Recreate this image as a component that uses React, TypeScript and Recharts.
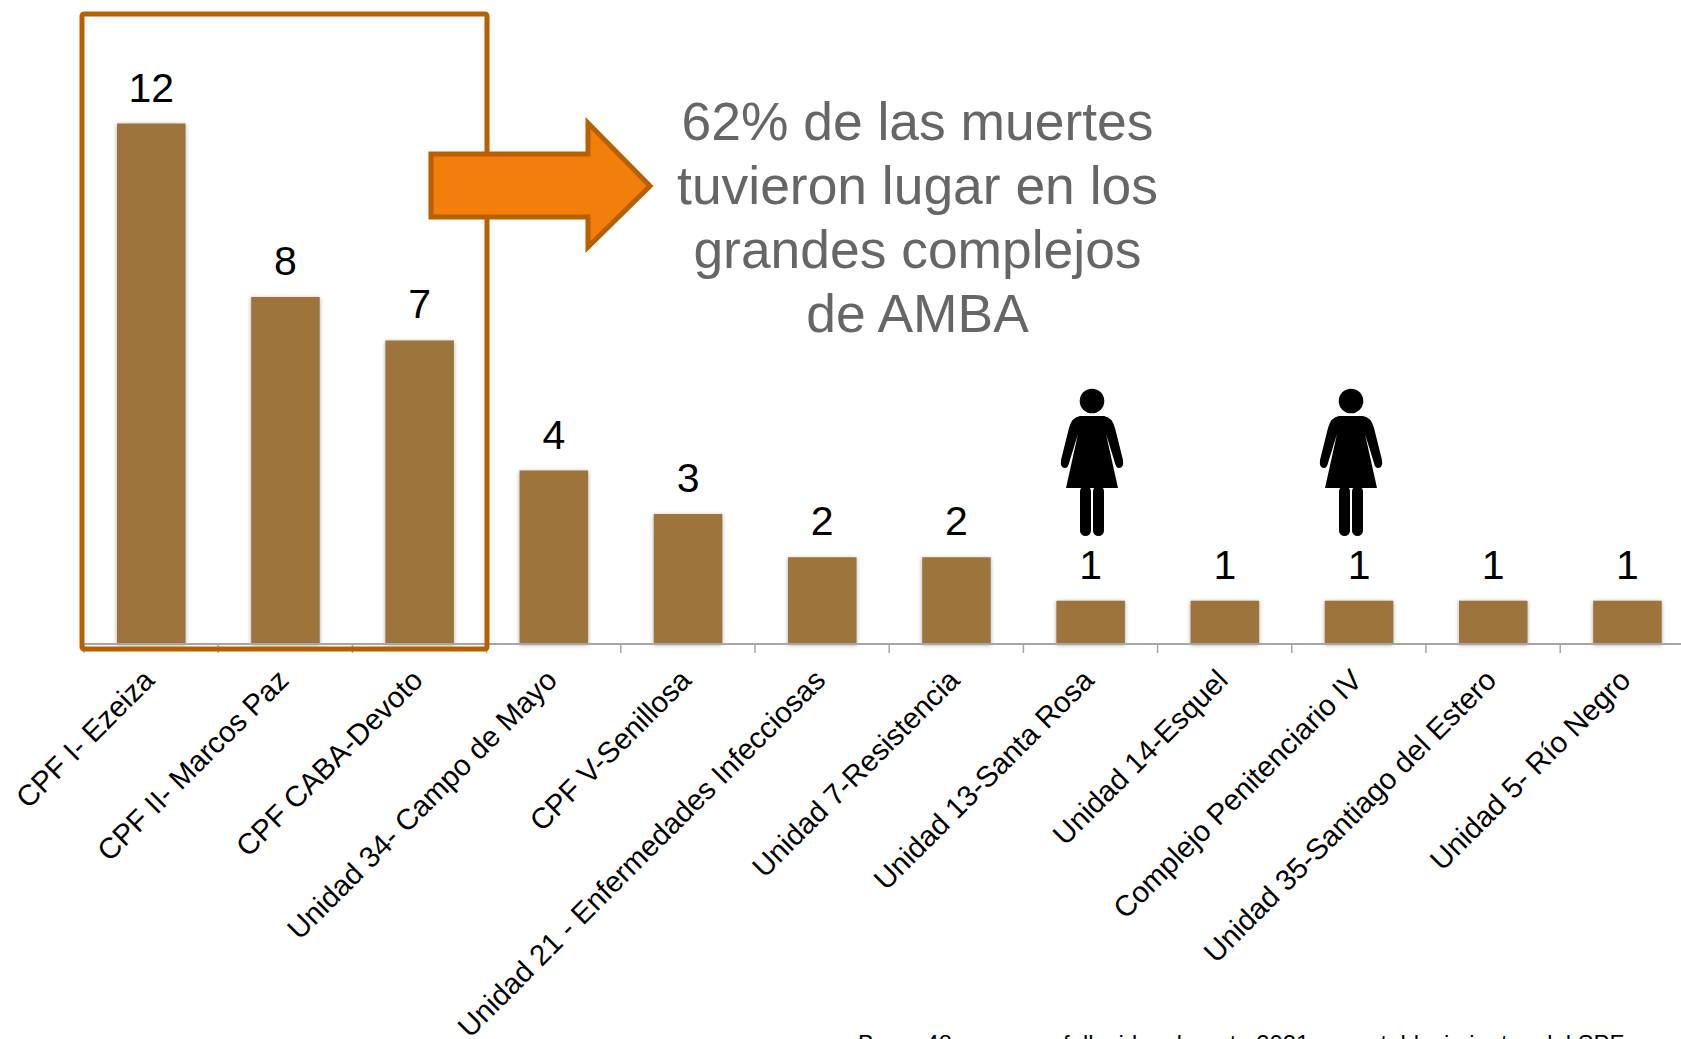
import React from "react";
import { BarChart, Bar, XAxis, YAxis, LabelList } from "recharts";

const categories = ["CPF I- Ezeiza","CPF II- Marcos Paz","CPF CABA-Devoto","Unidad 34- Campo de Mayo","CPF V-Senillosa","Unidad 21 - Enfermedades Infecciosas","Unidad 7-Resistencia","Unidad 13-Santa Rosa","Unidad 14-Esquel","Complejo Penitenciario IV","Unidad 35-Santiago del Estero","Unidad 5- Río Negro"];
const deaths = [12,8,7,4,3,2,2,1,1,1,1,1];
const calloutLines = ["62% de las muertes","tuvieron lugar en los","grandes complejos","de AMBA"];
const footnote = "Base: 48 personas fallecidas durante 2021, en establecimientos del SPF";
const personOffsets = [1020, 1279];

const data = categories.map((name, i) => ({ name, deaths: deaths[i] }));
const FONT = "'Liberation Sans', Arial, sans-serif";
const BAND = 134.2;

const Tick = (props: any) => {
  const { x, y, payload } = props;
  const tx = x + 5;
  const ty = y + 30;
  return (
    <g>
      <line x1={x - BAND / 2} x2={x - BAND / 2} y1={y - 8} y2={y + 1} stroke="#a6a6a6" strokeWidth={1.5} />
      <text x={tx} y={ty} fontSize={29.3} fontFamily={FONT} fill="#000" textAnchor="end"
        transform={`rotate(-45 ${tx} ${ty})`}>{payload.value}</text>
    </g>
  );
};

const Person = ({ x }: { x: number }) => (
  <g transform={`translate(${x} 370)`} fill="#000">
    <circle cx={72} cy={31} r={12.3} />
    <path d="M60 46 H84 Q92 47 95 58 L103 90 Q104 98 99 98 Q96 98 95 93 L86 64 L98 118 H46 L58 64 L49 93 Q48 98 45 98 Q40 98 41 90 L49 58 Q52 47 60 46Z" />
    <rect x={60} y={116} width={11} height={50} rx={5.5} />
    <rect x={73} y={116} width={11} height={50} rx={5.5} />
  </g>
);

export default function App() {
  return (
    <div style={{ position: "absolute", left: 0, top: 0, width: 1681, height: 1039, overflow: "hidden", background: "#fff" }}>
      <BarChart width={1700} height={1039} data={data} barSize={68.5}
        margin={{ top: 123.5, right: 5.6, bottom: 0, left: 84 }}>
        <XAxis dataKey="name" interval={0} height={395} tick={<Tick />} tickLine={false}
          axisLine={{ stroke: "#a6a6a6", strokeWidth: 2 }} />
        <YAxis hide domain={[0, 12]} />
        <Bar dataKey="deaths" fill="#9c743c" isAnimationActive={false}
          style={{ filter: "drop-shadow(0 1px 2px rgba(0,0,0,0.35))" }}>
          <LabelList dataKey="deaths" position="top" offset={22} fontSize={41} fontFamily={FONT} fill="#000" />
        </Bar>
      </BarChart>
      <svg width={1681} height={1039} style={{ position: "absolute", left: 0, top: 0 }}>
        <rect x={82} y={14} width={405} height={635} rx={2} fill="none" stroke="#b85f00" strokeWidth={5} />
        <path d="M431 154 H588 V123 L650 186 L588 247 V217 H431 Z" fill="#f27f09" stroke="#b85f00" strokeWidth={5} />
        <text fontFamily={FONT} fontSize={53.4} fill="#666" textAnchor="middle">
          {calloutLines.map((l, i) => <tspan key={l} x={917.5} y={140 + i * 64}>{l}</tspan>)}
        </text>
        {personOffsets.map((x) => <Person key={x} x={x} />)}
        <text x={858} y={1052} fontFamily={FONT} fontSize={23.8} fill="#000">{footnote}</text>
      </svg>
    </div>
  );
}
